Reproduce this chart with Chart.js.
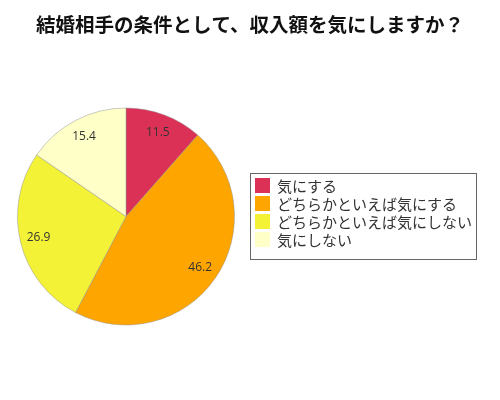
<!DOCTYPE html>
<html>
<head>
<meta charset="utf-8">
<script src="https://cdn.jsdelivr.net/npm/chart.js@4"></script>
<style>
  body { margin: 0; background: #fff; }
  #wrap { width: 500px; height: 400px; }
</style>
</head>
<body>
<div id="wrap"><canvas id="pie"></canvas></div>
<script>
const categories = ["気にする", "どちらかといえば気にする", "どちらかといえば気にしない", "気にしない"];
const values = [11.5, 46.2, 26.9, 15.4];
const colors = ["#dc3157", "#ffa500", "#f3f236", "#ffffc8"];
const titleText = "結婚相手の条件として、収入額を気にしますか？";

// value labels placed inside each slice
const sliceLabels = {
    id: "sliceLabels",
    afterDatasetsDraw(chart) {
        const {ctx} = chart;
        const meta = chart.getDatasetMeta(0);
        ctx.save();
        ctx.font = "12px 'Open Sans', 'Noto Sans'";
        ctx.fillStyle = "#333";
        ctx.textAlign = "center";
        ctx.textBaseline = "middle";
        meta.data.forEach((arc, i) => {
            const p = arc.getProps(["x", "y", "startAngle", "endAngle", "outerRadius"], true);
            const mid = (p.startAngle + p.endAngle) / 2;
            const r = p.outerRadius * 0.83;
            ctx.fillText(values[i].toFixed(1), p.x + Math.cos(mid) * r, p.y + Math.sin(mid) * r);
        });
        ctx.restore();
    }
};

// title across the full width, and a boxed legend on the right
const boxLegend = {
    id: "boxLegend",
    afterDraw(chart) {
        const {ctx} = chart;
        ctx.save();
        ctx.font = "bold 19.5px 'Noto Sans CJK JP'";
        ctx.fillStyle = "#111";
        ctx.textAlign = "center";
        ctx.textBaseline = "middle";
        ctx.fillText(titleText, chart.width / 2, 25);

        const x = 250, y = 173, w = 226, h = 86;
        ctx.strokeStyle = "#666";
        ctx.lineWidth = 1;
        ctx.strokeRect(x + 0.5, y + 0.5, w, h);
        ctx.font = "15px 'Noto Sans CJK JP'";
        ctx.textAlign = "left";
        categories.forEach((c, i) => {
            const rowY = y + 5 + i * 18;
            ctx.fillStyle = colors[i];
            ctx.fillRect(x + 5, rowY, 15, 15);
            ctx.fillStyle = "#333";
            ctx.fillText(c, x + 27, rowY + 8);
        });
        ctx.restore();
    }
};

new Chart("pie", {
    type: "pie",
    data: {
        labels: categories,
        datasets: [{
            data: values,
            backgroundColor: colors,
            borderColor: "rgba(140,140,140,0.45)",
            borderWidth: 1
        }]
    },
    options: {
        responsive: true,
        maintainAspectRatio: false,
        animation: false,
        layout: {
            padding: {left: 17, right: 265, top: 107, bottom: 74}
        },
        plugins: {
            legend: {display: false},
            tooltip: {enabled: false},
            title: {display: false}
        }
    },
    plugins: [sliceLabels, boxLegend]
});
</script>
</body>
</html>
